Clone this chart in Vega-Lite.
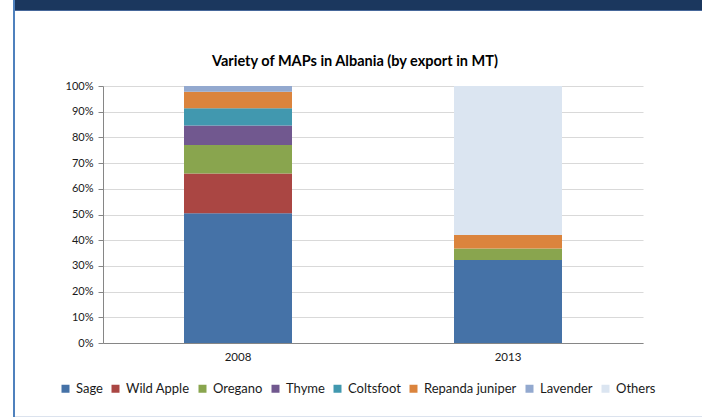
{
  "$schema": "https://vega.github.io/schema/vega-lite/v6.json",
  "padding": {"left": 13, "top": 0, "right": 0, "bottom": 0},
  "background": "white",
  "columns": 3,
  "spacing": 0,
  "bounds": "flush",
  "align": "each",
  "config": {
    "font": "Lato",
    "view": {"stroke": null}
  },
  "concat": [
    {"width": 2, "height": 10, "data": {"values": []}, "mark": "point", "view": {"fill": "#4F81BD", "stroke": null}},
    {"width": 88, "height": 10, "data": {"values": []}, "mark": "point", "view": {"fill": "#1B375E", "stroke": null}},
    {"width": 599, "height": 10, "data": {"values": []}, "mark": "point", "view": {"fill": "#1B375E", "stroke": null}},

    {"width": 2, "height": 1, "data": {"values": []}, "mark": "point", "view": {"fill": "#4F81BD", "stroke": null}},
    {"width": 88, "height": 1, "data": {"values": []}, "mark": "point", "view": {"fill": "#46679A", "stroke": null}},
    {"width": 599, "height": 1, "data": {"values": []}, "mark": "point", "view": {"fill": "#46679A", "stroke": null}},

    {"width": 2, "height": 75, "data": {"values": []}, "mark": "point", "view": {"fill": "#4F81BD", "stroke": null}},
    {"width": 88, "height": 75, "data": {"values": []}, "mark": "point"},
    {"width": 599, "height": 75, "data": {"values": []}, "mark": "point"},

    {"width": 2, "height": 257, "data": {"values": []}, "mark": "point", "view": {"fill": "#4F81BD", "stroke": null}},
    {"width": 88, "height": 257, "data": {"values": []}, "mark": "point"},
    {
      "width": 540,
      "height": 257,
      "data": {
        "values": [
          {"year": "2008", "herb": "Sage", "share": 0.505, "rank": 1},
          {"year": "2008", "herb": "Wild Apple", "share": 0.155, "rank": 2},
          {"year": "2008", "herb": "Oregano", "share": 0.11, "rank": 3},
          {"year": "2008", "herb": "Thyme", "share": 0.076, "rank": 4},
          {"year": "2008", "herb": "Coltsfoot", "share": 0.067, "rank": 5},
          {"year": "2008", "herb": "Repanda juniper", "share": 0.065, "rank": 6},
          {"year": "2008", "herb": "Lavender", "share": 0.022, "rank": 7},
          {"year": "2013", "herb": "Sage", "share": 0.323, "rank": 1},
          {"year": "2013", "herb": "Oregano", "share": 0.045, "rank": 3},
          {"year": "2013", "herb": "Repanda juniper", "share": 0.052, "rank": 6},
          {"year": "2013", "herb": "Others", "share": 0.58, "rank": 8}
        ]
      },
      "title": {
        "text": "Variety of MAPs in Albania (by export in MT)",
        "font": "Lato",
        "fontSize": 14.5,
        "fontWeight": "bold",
        "color": "#000000",
        "offset": 11,
        "dx": -18
      },
      "view": {"stroke": null},
      "mark": {"type": "bar"},
      "encoding": {
        "x": {
          "field": "year",
          "type": "nominal",
          "scale": {"paddingInner": 0.6, "paddingOuter": 0.3},
          "axis": {
            "title": null,
            "labelAngle": 0,
            "labelFontSize": 11.5,
            "labelColor": "#1A1A1A",
            "labelPadding": 8,
            "ticks": false,
            "domainColor": "#868686",
            "grid": false
          }
        },
        "y": {
          "field": "share",
          "type": "quantitative",
          "stack": "zero",
          "scale": {"domain": [0, 1], "nice": false},
          "axis": {
            "title": null,
            "format": ".0%",
            "values": [0, 0.1, 0.2, 0.3, 0.4, 0.5, 0.6, 0.7, 0.8, 0.9, 1],
            "labelFontSize": 11,
            "labelColor": "#1A1A1A",
            "labelPadding": 5,
            "tickSize": 5,
            "tickColor": "#868686",
            "domainColor": "#868686",
            "gridColor": "#D9D9D9"
          }
        },
        "color": {
          "field": "herb",
          "type": "nominal",
          "scale": {
            "domain": ["Sage", "Wild Apple", "Oregano", "Thyme", "Coltsfoot", "Repanda juniper", "Lavender", "Others"],
            "range": ["#4572A7", "#AA4643", "#89A54E", "#71588F", "#4198AF", "#DB843D", "#93A9CF", "#DBE5F1"]
          },
          "legend": {
            "title": null,
            "orient": "none",
            "legendX": 46,
            "legendY": 382,
            "direction": "horizontal",
            "columns": 8,
            "symbolType": "square",
            "symbolSize": 64,
            "symbolStrokeWidth": 0,
            "labelFontSize": 13,
            "labelColor": "#1A1A1A",
            "labelOffset": 4,
            "columnPadding": 6
          }
        },
        "order": {"field": "rank", "type": "quantitative"}
      }
    },

    {"width": 2, "height": 73, "data": {"values": []}, "mark": "point", "view": {"fill": "#4F81BD", "stroke": null}},
    {"width": 88, "height": 73, "data": {"values": []}, "mark": "point"},
    {"width": 599, "height": 73, "data": {"values": []}, "mark": "point"},

    {"width": 2, "height": 1, "data": {"values": []}, "mark": "point", "view": {"fill": "#4F81BD", "stroke": null}},
    {"width": 88, "height": 1, "data": {"values": []}, "mark": "point", "view": {"fill": "#DCE3EE", "stroke": null}},
    {"width": 599, "height": 1, "data": {"values": []}, "mark": "point", "view": {"fill": "#DCE3EE", "stroke": null}}
  ]
}
